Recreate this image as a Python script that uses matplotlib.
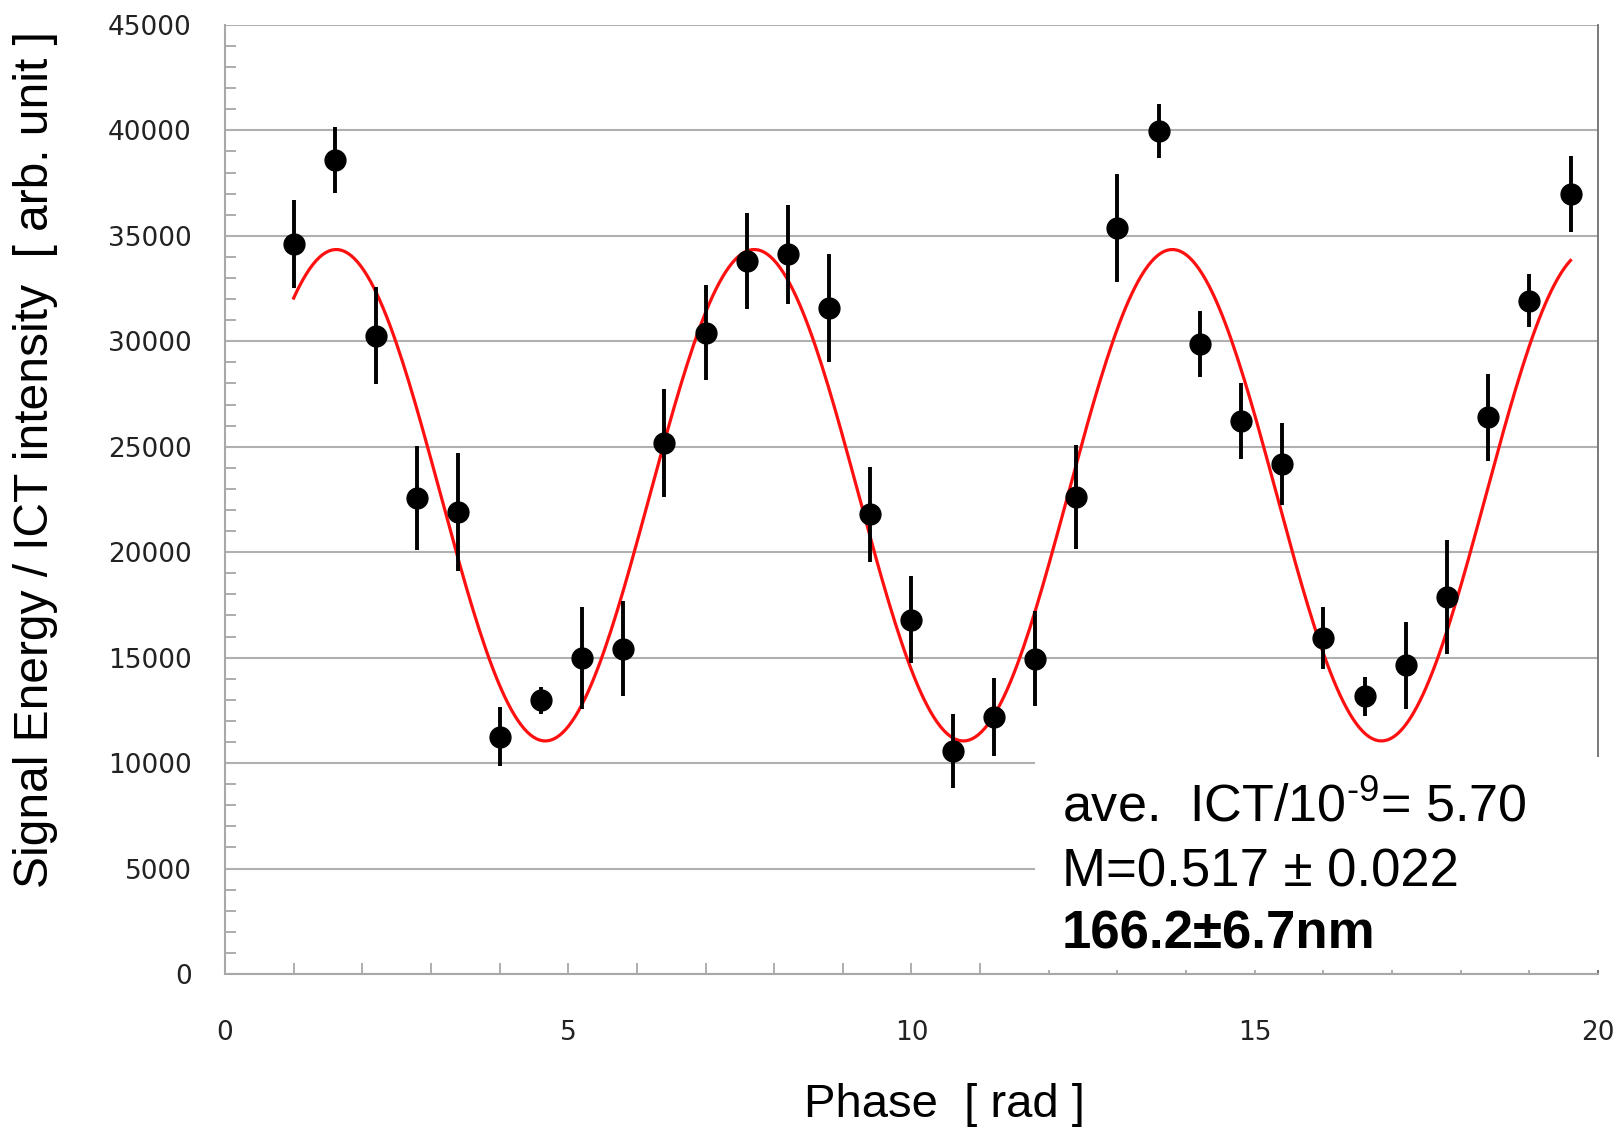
import numpy as np
import matplotlib
matplotlib.use('Agg')
import matplotlib.pyplot as plt
from matplotlib.patches import Rectangle
from matplotlib.ticker import MultipleLocator

# measured points (phase in rad, signal / ICT)
phase = [1.0, 1.6, 2.2, 2.8, 3.4, 4.0, 4.6, 5.2, 5.8, 6.4, 7.0, 7.6, 8.2, 8.8, 9.4, 10.0,
         10.6, 11.2, 11.8, 12.4, 13.0, 13.6, 14.2, 14.8, 15.4, 16.0, 16.6, 17.2, 17.8, 18.4, 19.0, 19.6]
signal = [34620, 38590, 30260, 22575, 21890, 11260, 12980, 14985, 15425, 25170, 30410, 33790,
          34130, 31590, 21790, 16800, 10580, 12190, 14940, 22620, 35360, 39960, 29870, 26200,
          24190, 15920, 13170, 14640, 17870, 26400, 31930, 36970]
signal_err = [2100, 1570, 2300, 2450, 2800, 1400, 650, 2400, 2250, 2550, 2250, 2280,
              2350, 2570, 2250, 2060, 1740, 1850, 2250, 2450, 2570, 1270, 1550, 1800,
              1930, 1470, 930, 2060, 2690, 2060, 1270, 1790]

# fitted cosine
fit_mean = 22700
fit_amp = 11650
fit_period = 6.09
fit_peak = 1.62
fit_start, fit_end = 1.0, 19.6

plt.rcParams['mathtext.fontset'] = 'custom'
plt.rcParams['mathtext.rm'] = 'Liberation Sans'

fig = plt.figure(figsize=(16.2, 11.31), dpi=100)
ax = fig.add_axes([0.1389, 0.1388, 0.8475, 0.8392])

xf = np.linspace(fit_start, fit_end, 400)
yf = fit_mean + fit_amp * np.cos(2 * np.pi * (xf - fit_peak) / fit_period)
ax.plot(xf, yf, color='#ff1010', lw=2.3, zorder=3)

ax.errorbar(phase, signal, yerr=signal_err, fmt='o', color='black', ms=15,
            elinewidth=2.8, capsize=0, zorder=4)

ax.set_xlim(0, 20)
ax.set_ylim(0, 45000)
ax.xaxis.set_major_locator(MultipleLocator(5))
ax.xaxis.set_minor_locator(MultipleLocator(1))
ax.yaxis.set_major_locator(MultipleLocator(5000))
ax.yaxis.set_minor_locator(MultipleLocator(1000))
ax.grid(axis='y', which='major', color='#b0b0b0', lw=1.5)
ax.set_axisbelow(True)

ax.tick_params(which='both', direction='in', color='#a0a0a0', width=1.2)
ax.tick_params(axis='x', which='both', length=8, pad=33, labelsize=19, labelcolor='#222222')
ax.tick_params(axis='y', which='major', length=0, pad=24, labelsize=19, labelcolor='#222222')
ax.tick_params(axis='y', which='minor', length=8)

for s in ['left', 'bottom']:
    ax.spines[s].set_color('#a8a8a8')
    ax.spines[s].set_linewidth(1.5)
ax.spines['top'].set_visible(False)
ax.spines['right'].set_color('#707070')
ax.spines['right'].set_linewidth(1.3)

ax.set_xlabel('Phase  [ rad ]', fontsize=34, family='Liberation Sans')
ax.xaxis.set_label_coords(0.5237, -0.115)
ax.set_ylabel('Signal Energy / ICT intensity  [ arb. unit ]', fontsize=34.5,
              family='Liberation Sans')
ax.yaxis.set_label_coords(-0.122, 0.5416)

# white box with the fit results
ax.add_patch(Rectangle((0.59, 0.004), 0.45, 0.225, transform=ax.transAxes,
                       facecolor='white', edgecolor='none', clip_on=False, zorder=5))
ax.text(0.6096, 0.161, r'ave.  ICT/10$^{\text{-9}}$= 5.70', transform=ax.transAxes,
        fontsize=37.5, family='Liberation Sans', va='baseline', zorder=6)
ax.text(0.6096, 0.0927, 'M=0.517 ± 0.022', transform=ax.transAxes,
        fontsize=38, family='Liberation Sans', va='baseline', zorder=6)
ax.text(0.6096, 0.0269, '166.2±6.7nm', transform=ax.transAxes,
        fontsize=38, family='Liberation Sans', weight='bold', va='baseline', zorder=6)

fig.savefig('out.png', dpi=100)
